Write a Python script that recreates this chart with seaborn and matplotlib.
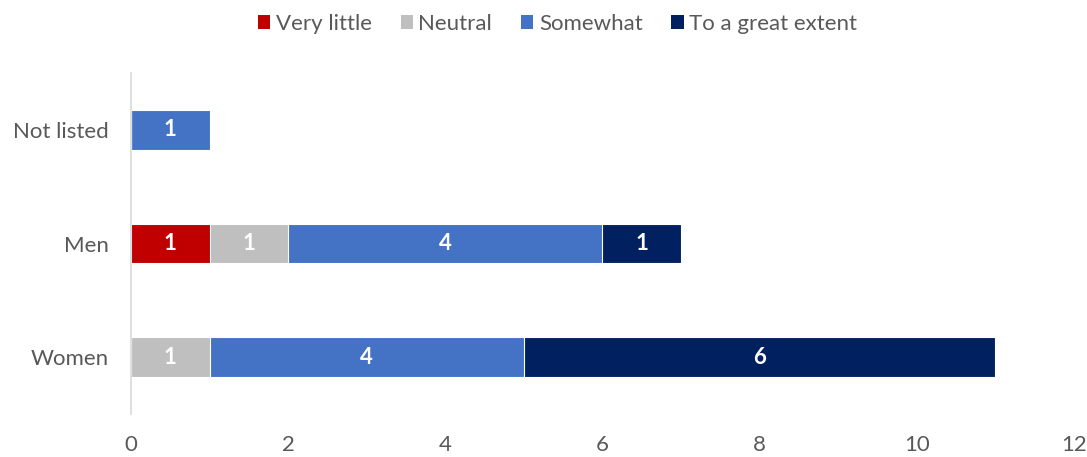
import matplotlib
matplotlib.use("Agg")
import matplotlib.pyplot as plt
import seaborn as sns
import pandas as pd
import numpy as np
from matplotlib.patches import Patch

categories = ["Not listed", "Men", "Women"]
series_names = ["Very little", "Neutral", "Somewhat", "To a great extent"]
very_little = [0, 1, 0]
neutral = [0, 1, 1]
somewhat = [1, 4, 4]
great_extent = [0, 1, 6]
colors = ["#C00000", "#BFBFBF", "#4472C4", "#002060"]
x_ticks = [0, 2, 4, 6, 8, 10, 12]

sns.set_theme(style="white")
plt.rcParams["font.family"] = ["Lato", "DejaVu Sans"]
text_color = "#595959"

values = [very_little, neutral, somewhat, great_extent]
cum = np.cumsum(np.array(values), axis=0)

fig = plt.figure(figsize=(10.87, 4.57), dpi=100)
ax = fig.add_axes([0.1205, 0.094, 0.8675, 0.746])

# Draw cumulative totals from the last series back to the first so they stack
for i in range(len(series_names) - 1, -1, -1):
    df = pd.DataFrame({"cat": categories, "val": cum[i]})
    sns.barplot(data=df, y="cat", x="val", order=categories, color=colors[i],
                saturation=1, width=0.35, edgecolor="white", linewidth=0.8,
                ax=ax, orient="h")

# Segment labels
for i, name in enumerate(series_names):
    for j, cat in enumerate(categories):
        v = values[i][j]
        if v > 0:
            ax.text(cum[i][j] - v / 2, j, str(v), ha="center", va="center",
                    color="white", fontsize=16, fontweight="bold")

ax.set_xlim(0, 12)
ax.set_ylim(2.5, -0.5)
ax.set_xticks(x_ticks)
ax.set_xticklabels([str(t) for t in x_ticks])
ax.set_xlabel("")
ax.set_ylabel("")
ax.tick_params(axis="both", length=0, labelsize=16, labelcolor=text_color)
ax.tick_params(axis="x", pad=15)
ax.tick_params(axis="y", pad=16)
for s in ["top", "right", "bottom"]:
    ax.spines[s].set_visible(False)
ax.spines["left"].set_color("#D9D9D9")
ax.spines["left"].set_linewidth(1.2)
ax.grid(False)

handles = [Patch(facecolor=c, edgecolor="none") for c in colors]
fig.legend(handles, series_names, loc="center", bbox_to_anchor=(0.513, 0.948),
           ncol=4, frameon=False, fontsize=16, handlelength=0.55, handleheight=0.55,
           handletextpad=0.25, columnspacing=1.3, labelcolor=text_color)

fig.savefig("out.png", dpi=100)
